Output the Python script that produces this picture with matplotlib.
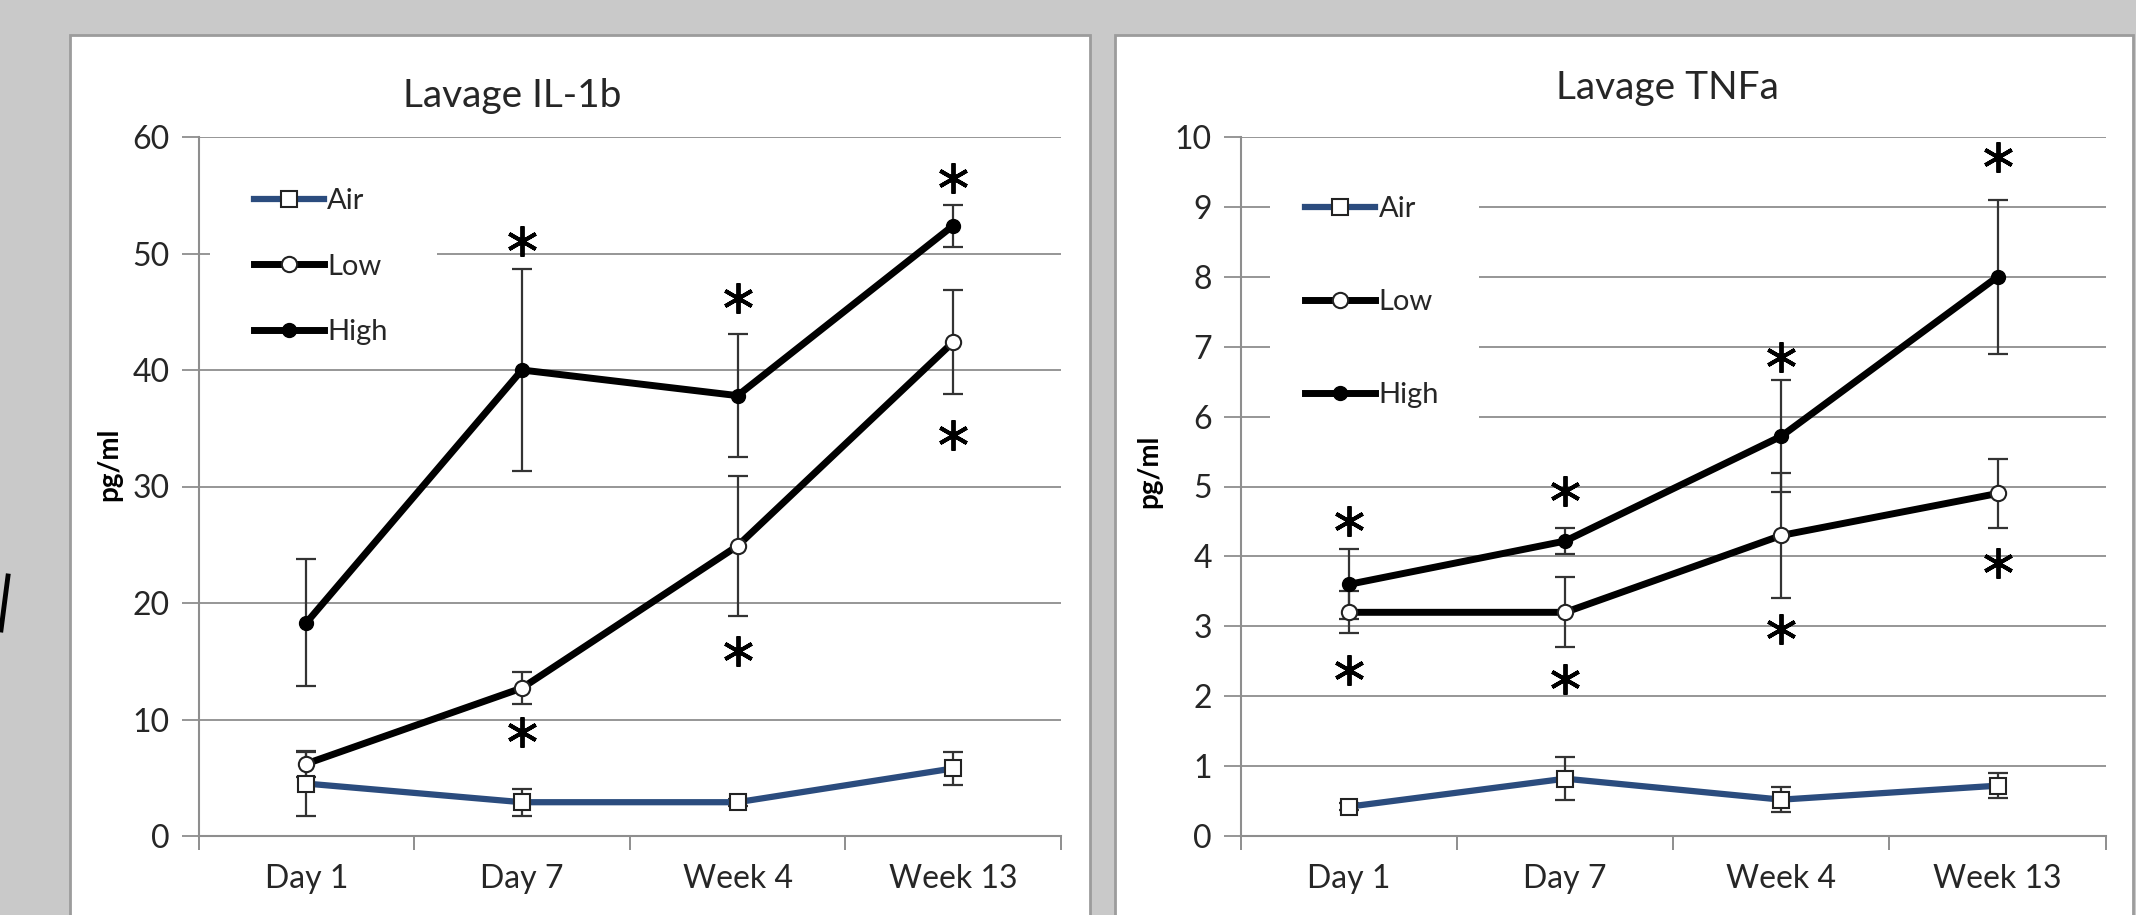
import numpy as np
import matplotlib
matplotlib.use('Agg')
import matplotlib.pyplot as plt
from matplotlib.patches import Rectangle
from matplotlib.lines import Line2D

plt.rcParams['font.family'] = ['Lato', 'DejaVu Sans']

# ---------------- data ----------------
categories = ['Day 1', 'Day 7', 'Week 4', 'Week 13']
series_names = ['Air', 'Low', 'High']

il1b_air = [4.5, 2.9, 2.9, 5.8]
il1b_air_err = [2.75, 1.15, 0.3, 1.45]
il1b_low = [6.2, 12.7, 24.9, 42.4]
il1b_low_err = [1.1, 1.4, 6.0, 4.45]
il1b_high = [18.3, 40.0, 37.8, 52.4]
il1b_high_err = [5.45, 8.65, 5.3, 1.8]
il1b_star_x = [1, 1, 2, 2, 3, 3]
il1b_star_y = [51.1, 8.9, 46.2, 15.9, 56.5, 34.4]

tnfa_air = [0.42, 0.82, 0.52, 0.72]
tnfa_air_err = [0.05, 0.31, 0.18, 0.18]
tnfa_low = [3.2, 3.2, 4.3, 4.9]
tnfa_low_err = [0.3, 0.5, 0.9, 0.49]
tnfa_high = [3.6, 4.22, 5.72, 8.0]
tnfa_high_err = [0.5, 0.19, 0.8, 1.1]
tnfa_star_x = [0, 0, 1, 1, 2, 2, 3, 3]
tnfa_star_y = [4.5, 2.38, 4.93, 2.25, 6.85, 2.96, 9.71, 3.9]

# ---------------- figure ----------------
W, H = 2136, 915
fig = plt.figure(figsize=(W / 100, H / 100), dpi=100)
fig.patch.set_facecolor('#c9c9c9')


def fx(px):
    return px / W


def fy(py):
    return 1 - py / H


GRAY = '#8e8e8e'
TXT = '#262626'
BLUE = '#2B4C7E'

# white chart panels
for x0, x1 in [(70, 1090), (1115, 2133)]:
    fig.add_artist(Rectangle((fx(x0), fy(940)), fx(x1 - x0), (940 - 35) / H,
                             transform=fig.transFigure, facecolor='white',
                             edgecolor='#9c9c9c', lw=2, zorder=-1))
# stray mark at the left edge of the background
fig.add_artist(Line2D([fx(8), fx(1)], [fy(576), fy(630)], color='black',
                      lw=3.5, transform=fig.transFigure))


def draw_panel(ax, title, title_xy, ymax, step, air, air_e, low, low_e,
               high, high_e, sx, sy, ylabel_xy, leg_anchor, leg_spacing,
               white_rect):
    x = np.arange(len(categories))
    ax.set_facecolor('none')
    ax.set_axisbelow(True)
    ax.yaxis.grid(True, color=GRAY, lw=1.3)
    ax.add_patch(Rectangle(white_rect[:2], white_rect[2], white_rect[3],
                           transform=ax.transAxes, facecolor='white',
                           edgecolor='none', zorder=1.5))

    ekw = dict(fmt='none', ecolor='#333333', elinewidth=1.6, capsize=7,
               capthick=1.6, zorder=2)
    ax.errorbar(x, air, yerr=air_e, **ekw)
    ax.errorbar(x, low, yerr=low_e, **ekw)
    ax.errorbar(x, high, yerr=high_e, **ekw)

    l_air, = ax.plot(x, air, color=BLUE, lw=4.5, marker='s', ms=11,
                     mfc='white', mec='#222222', mew=1.5, zorder=3)
    l_low, = ax.plot(x, low, color='black', lw=5, marker='o', ms=11,
                     mfc='white', mec='#222222', mew=1.5, zorder=3)
    l_high, = ax.plot(x, high, color='black', lw=5, marker='o', ms=10,
                      mfc='black', mec='black', zorder=3)

    ax.plot(sx, sy, ls='none', marker=(6, 2, 0), ms=22, mew=2.8,
            color='black', zorder=4)

    ax.set_xlim(-0.5, len(categories) - 0.5)
    ax.set_ylim(0, ymax)
    ax.set_yticks(np.arange(0, ymax + step / 2, step))
    ax.set_xticks(x)
    ax.set_xticklabels(categories)
    ax.set_xticks(np.arange(-0.5, len(categories)), minor=True)
    ax.tick_params(axis='x', which='major', length=0, pad=20,
                   labelsize=23, labelcolor=TXT)
    ax.tick_params(axis='x', which='minor', length=10, width=1.4,
                   color=GRAY, direction='out')
    ax.tick_params(axis='y', length=12, width=1.3, color=GRAY, pad=9,
                   labelsize=23, labelcolor=TXT)
    for s in ['top', 'right']:
        ax.spines[s].set_visible(False)
    for s in ['left', 'bottom']:
        ax.spines[s].set_color(GRAY)
        ax.spines[s].set_linewidth(1.5)

    fig.text(fx(title_xy[0]), fy(title_xy[1]), title, ha='center',
             va='center', fontsize=28, color=TXT)
    fig.text(fx(ylabel_xy[0]), fy(ylabel_xy[1]), 'pg/ml', rotation=90,
             ha='center', va='center', fontsize=20, fontweight='bold',
             color='black')

    ax.legend([l_air, l_low, l_high], series_names, loc='upper left',
              bbox_to_anchor=leg_anchor, frameon=False, fontsize=21,
              handlelength=2.4, handletextpad=0.12,
              labelspacing=leg_spacing, borderaxespad=0, borderpad=0,
              labelcolor=TXT)


ax1 = fig.add_axes([fx(198.5), fy(836), fx(862.5), (836 - 137) / H])
ax2 = fig.add_axes([fx(1241), fy(836), fx(864.6), (836 - 137) / H])

draw_panel(ax1, 'Lavage IL-1b', (512, 96), 60, 10,
           il1b_air, il1b_air_err, il1b_low, il1b_low_err,
           il1b_high, il1b_high_err, il1b_star_x, il1b_star_y,
           (109, 464), (0.064, 0.927), 1.36, (0.013, 0.68, 0.263, 0.28))
draw_panel(ax2, 'Lavage TNFa', (1667, 88), 10, 1,
           tnfa_air, tnfa_air_err, tnfa_low, tnfa_low_err,
           tnfa_high, tnfa_high_err, tnfa_star_x, tnfa_star_y,
           (1149.5, 471), (0.074, 0.916), 2.3, (0.034, 0.52, 0.241, 0.44))

fig.savefig('out.png', dpi=100, facecolor=fig.get_facecolor())
